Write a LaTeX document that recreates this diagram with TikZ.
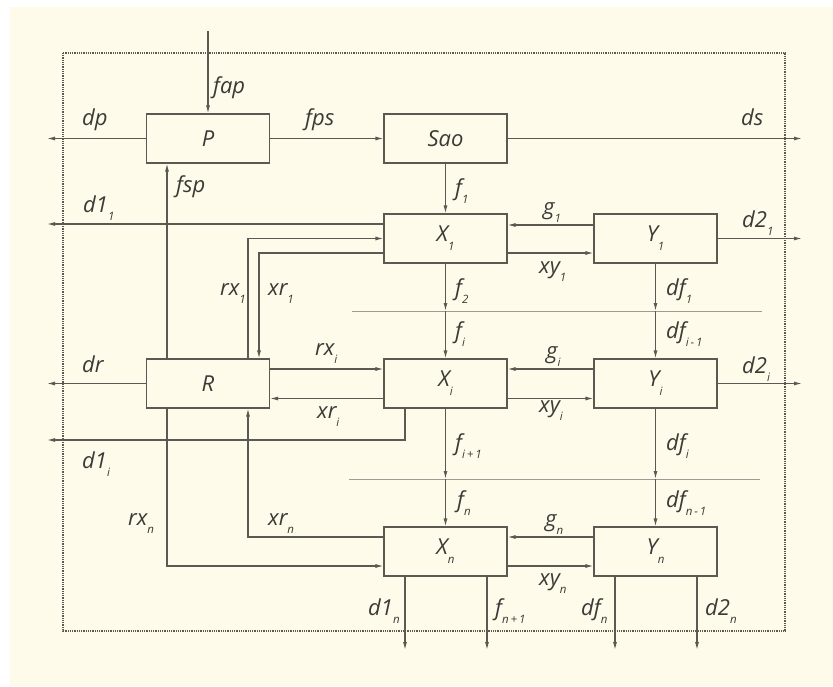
\documentclass[tikz,border=0pt]{standalone}
\usepackage{fontspec}
\setmainfont{Open Sans}
\usetikzlibrary{arrows.meta}
\definecolor{cream}{HTML}{FEFBEA}
\definecolor{ln}{HTML}{5A5A52}
\definecolor{tx}{HTML}{3A3A36}
\newcommand\sbs[1]{\raisebox{-0.4em}{\fontsize{11.5}{12}\selectfont #1}}
\tikzset{
  box/.style={draw=ln, line width=1.1pt, minimum width=123pt, minimum height=49pt, inner sep=0pt, font=\fontsize{22}{24}\selectfont\itshape, text=tx},
  arr/.style={draw=ln, line width=1.1pt, -{Latex[length=8pt,width=4pt]}},
  sepl/.style={draw=ln!60, line width=0.9pt},
  frm/.style={draw=ln, line width=1.6pt, dash pattern=on 1pt off 0.8pt},
  lbl/.style={anchor=base west, inner sep=0pt, text=tx, font=\fontsize{22}{24}\selectfont\itshape},
}
\begin{document}
\begin{tikzpicture}[x=1pt,y=-1pt]
\useasboundingbox (0,0) rectangle (833,686);
\fill[white] (0,0) rectangle (833,686);
\fill[cream] (10,7) rectangle (833,686);
\draw[frm] (63,53) rectangle (785,631);
% boxes
\node[box] (P) at (208,138.5) {P};
\node[box] (Sao) at (445.5,138.5) {Sao};
\node[box] (X1) at (445.5,238.5) {X\sbs{1}};
\node[box] (Y1) at (655.5,238.5) {Y\sbs{1}};
\node[box] (R) at (208,383.5) {R};
\node[box] (Xi) at (445.5,383.5) {X\sbs{i}};
\node[box] (Yi) at (655.5,383.5) {Y\sbs{i}};
\node[box] (Xn) at (445.5,551.5) {X\sbs{n}};
\node[box] (Yn) at (655.5,551.5) {Y\sbs{n}};
% free ends
\coordinate (fapin) at (208,31);
\coordinate (dpout) at (47,138.5);
\coordinate (dsout) at (802,138.5);
\coordinate (d11out) at (47,224);
\coordinate (d21out) at (802,238.5);
\coordinate (drout) at (47,383.5);
\coordinate (d2iout) at (802,383.5);
\coordinate (d1iout) at (47,440);
\coordinate (s1a) at (352,311);
\coordinate (s1b) at (762,311);
\coordinate (s2a) at (349,479);
\coordinate (s2b) at (760,479);
\coordinate (f2end) at (445.5,311);
\coordinate (df1end) at (655.5,311);
\coordinate (fi1end) at (445.5,479);
\coordinate (dfiend) at (655.5,479);
\coordinate (d1nout) at (405,650);
\coordinate (fn1out) at (487,650);
\coordinate (dfnout) at (615,650);
\coordinate (d2nout) at (697,650);
% separators
\draw[sepl] (s1a) -- (s1b);
\draw[sepl] (s2a) -- (s2b);
% connectors
\draw[arr] (fapin) -- (P.north);
\draw[arr] (P.west) -- (dpout);
\draw[arr] (P.east) -- (Sao.west);
\draw[arr] (Sao.east) -- (dsout);
\draw[arr] (Sao.south) -- (X1.north);
\draw[arr] ([yshift=14.5pt]X1.west) -- (d11out);
\draw[arr] ([yshift=13.5pt]Y1.west) -- ([yshift=13.5pt]X1.east);
\draw[arr] ([yshift=-14.5pt]X1.east) -- ([yshift=-14.5pt]Y1.west);
\draw[arr] (Y1.east) -- (d21out);
\draw[arr] ([xshift=40pt]R.north) |- (X1.west);
\draw[arr] ([yshift=-14.5pt]X1.west) -| ([xshift=51pt]R.north);
\draw[arr] ([xshift=-41pt]R.north) -- ([xshift=-41pt]P.south);
\draw[arr] ([xshift=-41pt]R.south) |- ([yshift=-14.5pt]Xn.west);
\draw[arr] ([yshift=14.5pt]Xn.west) -| ([xshift=40pt]R.south);
\draw[arr] ([yshift=14.5pt]R.east) -- ([yshift=14.5pt]Xi.west);
\draw[arr] ([yshift=-15pt]Xi.west) -- ([yshift=-15pt]R.east);
\draw[arr] (R.west) -- (drout);
\draw[arr] ([xshift=-40.5pt]Xi.south) |- (d1iout);
\draw[arr] ([yshift=14.5pt]Yi.west) -- ([yshift=14.5pt]Xi.east);
\draw[arr] ([yshift=-15pt]Xi.east) -- ([yshift=-15pt]Yi.west);
\draw[arr] (Yi.east) -- (d2iout);
\draw[arr] (X1.south) -- (f2end);
\draw[arr] (f2end) -- (Xi.north);
\draw[arr] (Y1.south) -- (df1end);
\draw[arr] (df1end) -- (Yi.north);
\draw[arr] (Xi.south) -- (fi1end);
\draw[arr] (fi1end) -- (Xn.north);
\draw[arr] (Yi.south) -- (dfiend);
\draw[arr] (dfiend) -- (Yn.north);
\draw[arr] ([yshift=14.5pt]Yn.west) -- ([yshift=14.5pt]Xn.east);
\draw[arr] ([yshift=-14.5pt]Xn.east) -- ([yshift=-14.5pt]Yn.west);
\draw[arr] ([xshift=-40.5pt]Xn.south) -- (d1nout);
\draw[arr] ([xshift=41.5pt]Xn.south) -- (fn1out);
\draw[arr] ([xshift=-40.5pt]Yn.south) -- (dfnout);
\draw[arr] ([xshift=41.5pt]Yn.south) -- (d2nout);
% labels
\node[lbl] (Lfap) at (213,93) {fap};
\node[lbl] (Ldp) at (82,125) {dp};
\node[lbl] (Lfps) at (305,125) {fps};
\node[lbl] (Lds) at (741,125) {ds};
\node[lbl] (Lfsp) at (176,192) {fsp};
\node[lbl] (Ld11) at (83,212) {d1\sbs{1}};
\node[lbl] (Lf1) at (455,195) {f\sbs{1}};
\node[lbl] (Lg1) at (543,214) {g\sbs{1}};
\node[lbl] (Ld21) at (742,227) {d2\sbs{1}};
\node[lbl] (Lxy1) at (539,273) {xy\sbs{1}};
\node[lbl] (Lrx1) at (220,295) {rx\sbs{1}};
\node[lbl] (Lxr1) at (268,295) {xr\sbs{1}};
\node[lbl] (Lf2) at (455,295) {f\sbs{2}};
\node[lbl] (Ldf1) at (666,295) {df\sbs{1}};
\node[lbl] (Lfi) at (455,338) {f\sbs{i}};
\node[lbl] (Ldfim) at (666,338) {df\sbs{i\,-\,1}};
\node[lbl] (Lrxi) at (315,355) {rx\sbs{i}};
\node[lbl] (Lgi) at (546,358) {g\sbs{i}};
\node[lbl] (Ldr) at (82,372) {dr};
\node[lbl] (Ld2i) at (742,373) {d2\sbs{i}};
\node[lbl] (Lxri) at (317,418) {xr\sbs{i}};
\node[lbl] (Lxyi) at (539,412) {xy\sbs{i}};
\node[lbl] (Lfip) at (455,450) {f\sbs{i\,+\,1}};
\node[lbl] (Ldfi) at (666,450) {df\sbs{i}};
\node[lbl] (Ld1i) at (82,468) {d1\sbs{i}};
\node[lbl] (Lfn) at (457,507) {f\sbs{n}};
\node[lbl] (Ldfnm) at (666,507) {df\sbs{n\,-\,1}};
\node[lbl] (Lrxn) at (128,525) {rx\sbs{n}};
\node[lbl] (Lxrn) at (268,525) {xr\sbs{n}};
\node[lbl] (Lgn) at (545,526) {g\sbs{n}};
\node[lbl] (Lxyn) at (539,585) {xy\sbs{n}};
\node[lbl] (Ld1n) at (368,615) {d1\sbs{n}};
\node[lbl] (Lfnp) at (495,615) {f\sbs{n\,+\,1}};
\node[lbl] (Ldfn) at (581,615) {df\sbs{n}};
\node[lbl] (Ld2n) at (705,615) {d2\sbs{n}};
\end{tikzpicture}
\end{document}
